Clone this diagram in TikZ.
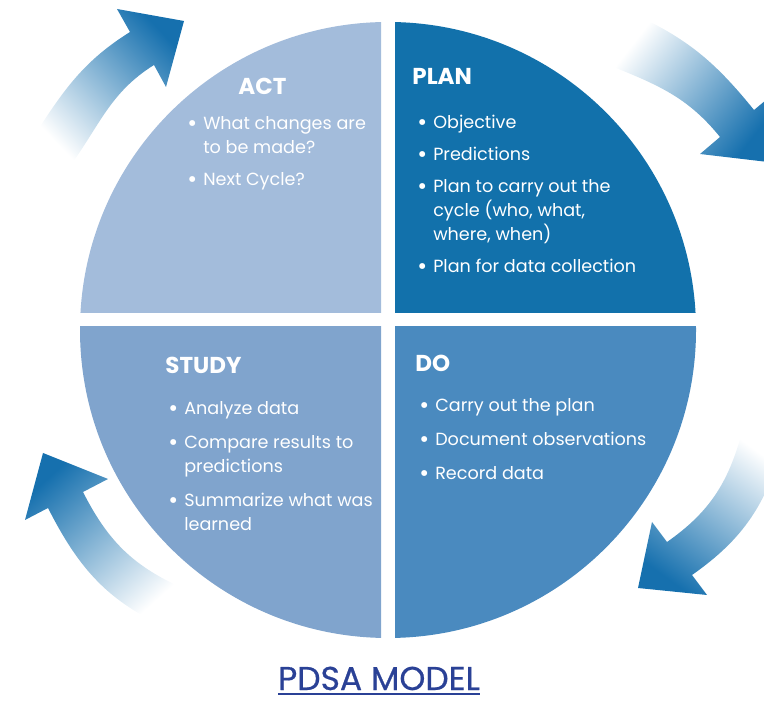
\documentclass[tikz,border=0pt]{standalone}
\usepackage{fontspec}
\setmainfont{Poppins}
\newfontfamily\titlefont{Poppins}[FakeBold=0.6]
\definecolor{actblue}{HTML}{A3BCDB}
\definecolor{planblue}{HTML}{1271AB}
\definecolor{doblue}{HTML}{4A8ABF}
\definecolor{studyblue}{HTML}{80A4CD}
\definecolor{arrowblue}{HTML}{1670AE}
\definecolor{titleblue}{HTML}{2A4196}
\newcommand{\thickul}[1]{\leavevmode\vtop{\hbox{#1}\kern1.6pt\hrule height 1pt}}
\newcommand{\pdsalist}[1]{\begin{tabular}[t]{@{}l@{\hspace{3pt}}l@{}}#1\end{tabular}}
\newcommand{\blt}{\raisebox{-1pt}{\fontsize{12}{12}\selectfont\textbullet}}
\tikzset{
	phase/.style={anchor=base west, inner sep=0pt, text=white, font=\bfseries\fontsize{11.5}{14}\selectfont},
	points/.style={anchor=base west, inner sep=0pt, text=white, font=\fontsize{8.8}{12}\selectfont},
	cyclearrow/.style={top color=white, bottom color=arrowblue, shading angle=#1},
}

\begin{document}
\begin{tikzpicture}[x=0.5pt, y=0.5pt]
		\useasboundingbox (0,0) rectangle (764,700);
		\clip (0,0) rectangle (764,700);
		% arrows round the cycle
		\shade[cyclearrow=134] (30,558) to[out=57,in=212] (130,668) -- (117,691) -- (184,679)
			-- (166,613) -- (154,635) to[out=212,in=55] (73,538) -- cycle;
		\shade[cyclearrow=52] (636,685) to[out=-25,in=129] (754,590) -- (772,605) -- (768,538)
			-- (700,546) -- (720,563) to[out=129,in=-22] (616,632) -- cycle;
		\shade[cyclearrow=324] (783,257) to[out=-105,in=35] (692,125) -- (707,105) -- (638,112)
			-- (652,178) -- (667,158) to[out=35,in=-105] (742,268) -- cycle;
		\shade[cyclearrow=222] (163,74) to[out=155,in=-63] (48,192) -- (25,180) -- (43,247)
			-- (108,221) -- (83,208) to[out=-63,in=155] (178,114) -- cycle;
		% the four quarters
		\begin{scope}
			\clip (0,387) rectangle (381,700);
			\fill[actblue] (388,370) circle (308);
		\end{scope}
		\begin{scope}
			\clip (395,387) rectangle (764,700);
			\fill[planblue] (388,370) circle (308);
		\end{scope}
		\begin{scope}
			\clip (0,0) rectangle (381,373);
			\fill[studyblue] (388,370) circle (308);
		\end{scope}
		\begin{scope}
			\clip (395,0) rectangle (764,373);
			\fill[doblue] (388,370) circle (308);
		\end{scope}
		% texts
		\node[phase] (act) at (238,605) {ACT};
		\node[points] (actlist) at (187,570) {\pdsalist{
			\blt & What changes are\\
			& to be made?\\[4pt]
			\blt & Next Cycle?}};
		\node[phase] (plan) at (412,615) {PLAN};
		\node[points] (planlist) at (417,571) {\pdsalist{
			\blt & Objective\\[4pt]
			\blt & Predictions\\[4pt]
			\blt & Plan to carry out the\\
			& cycle (who, what,\\
			& where, when)\\[4pt]
			\blt & Plan for data collection}};
		\node[phase] (study) at (165,326) {STUDY};
		\node[points] (studylist) at (168,285) {\pdsalist{
			\blt & Analyze data\\[5pt]
			\blt & Compare results to\\
			& predictions\\[5pt]
			\blt & Summarize what was\\
			& learned}};
		\node[phase] (do) at (415,328) {DO};
		\node[points] (dolist) at (419,288) {\pdsalist{
			\blt & Carry out the plan\\[5pt]
			\blt & Document observations\\[5pt]
			\blt & Record data}};
		\node[anchor=base, inner sep=0pt, text=titleblue, font=\titlefont\fontsize{16.5}{18}\selectfont] (title) at (379,10) {\thickul{PDSA MODEL}};
	\end{tikzpicture}
\end{document}
